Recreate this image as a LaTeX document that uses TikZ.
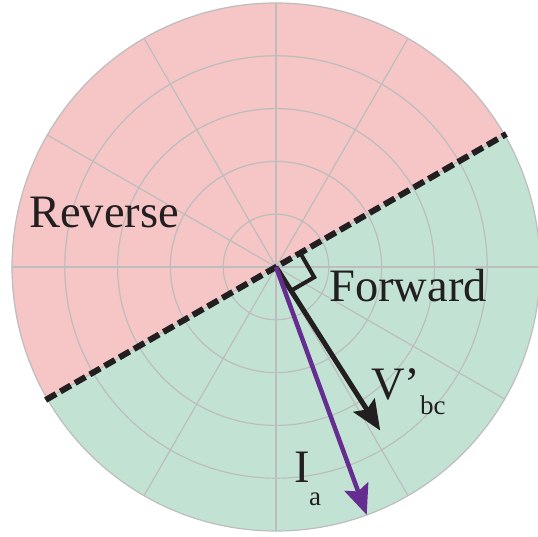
\documentclass[tikz,border=0pt]{standalone}
\usepackage{fontspec}
\setmainfont{Liberation Serif}
\usetikzlibrary{arrows.meta}
\definecolor{pinkbg}{HTML}{F6C5C6}
\definecolor{greenbg}{HTML}{C2E3D4}
\definecolor{gridgray}{HTML}{BDBDBD}
\definecolor{vpurple}{HTML}{662D91}
\definecolor{ink}{HTML}{231F20}
\begin{document}
\begin{tikzpicture}[x=1pt,y=1pt,
  grid/.style={draw=gridgray, line width=1.2pt},
  phasor/.style={-{Stealth[length=30pt,width=25pt,inset=5pt]}},
  lbl/.style={font=\fontsize{46.5}{50}\selectfont, inner sep=0pt, anchor=base west, text=ink},
  sublbl/.style={font=\fontsize{27}{30}\selectfont, inner sep=0pt, anchor=base west, text=ink}]
\useasboundingbox (0,0) rectangle (538,537);
\coordinate (O) at (276,270);
% half planes
\fill[pinkbg] (O) ++(30:264) arc[start angle=30,end angle=210,radius=264] -- cycle;
\fill[greenbg] (O) ++(210:264) arc[start angle=210,end angle=390,radius=264] -- cycle;
% polar grid
\foreach \r in {52.8,105.6,158.4,211.2,264} \draw[grid] (O) circle[radius=\r];
\foreach \a in {0,30,...,330} \draw[grid] (O) -- ++(\a:264);
% boundary line
\path (O) ++(30:266) coordinate (D1);
\path (O) ++(210:266) coordinate (D2);
\draw[draw=ink, line width=6pt, dash pattern=on 12pt off 5pt] (D2) -- (D1);
% right-angle marker
\path (O) ++(30:28) coordinate (S1) ++(-60:28) coordinate (S2);
\path (O) ++(-60:28) coordinate (S3);
\draw[draw=ink, line width=4pt, miter limit=10] (S1) -- (S2) -- (S3);
% phasors
\path (O) ++(-57.5:194) coordinate (V);
\path (O) ++(-69.9:264) coordinate (I);
\draw[phasor, line width=5pt, draw=ink, fill=ink] (O) -- (V);
\draw[phasor, line width=4.5pt, draw=vpurple, fill=vpurple] (O) -- (I);
% labels
\node[lbl] (rev) at (29,309) {Reverse};
\node[lbl] (fwd) at (329,235) {Forward};
\node[lbl] (vl) at (371,137) {V’};
\node[sublbl] (vs) at (420,122) {bc};
\node[lbl] (il) at (294,54) {I};
\node[sublbl] (is) at (309,31) {a};
\end{tikzpicture}
\end{document}
